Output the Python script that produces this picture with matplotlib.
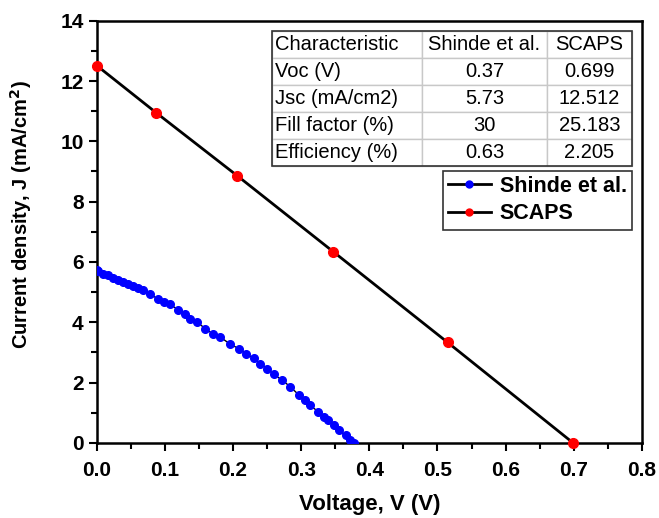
import matplotlib
matplotlib.use("Agg")
import matplotlib.pyplot as plt
from matplotlib.patches import Rectangle

plt.rcParams['font.family'] = ['Liberation Sans', 'DejaVu Sans']

# Shinde et al. measured J-V
shinde_v = [0.000, 0.002, 0.009, 0.017, 0.024, 0.031, 0.039, 0.046, 0.053, 0.061,
            0.068, 0.078, 0.089, 0.099, 0.107, 0.119, 0.129, 0.137, 0.147, 0.159,
            0.170, 0.181, 0.196, 0.208, 0.219, 0.230, 0.240, 0.250, 0.260, 0.272,
            0.284, 0.296, 0.306, 0.313, 0.325, 0.333, 0.340, 0.348, 0.355, 0.365,
            0.372, 0.377]
shinde_j = [5.73, 5.69, 5.61, 5.56, 5.48, 5.41, 5.34, 5.27, 5.19, 5.13,
            5.06, 4.94, 4.78, 4.67, 4.60, 4.42, 4.29, 4.12, 4.01, 3.79,
            3.62, 3.51, 3.27, 3.13, 2.96, 2.80, 2.63, 2.46, 2.27, 2.08,
            1.86, 1.60, 1.41, 1.25, 1.03, 0.86, 0.75, 0.59, 0.42, 0.25,
            0.09, 0.00]

# SCAPS simulation
scaps_v = [0.000, 0.087, 0.206, 0.347, 0.515, 0.699]
scaps_j = [12.51, 10.95, 8.86, 6.34, 3.33, 0.00]

col_labels = ["Characteristic", "Shinde et al.", "SCAPS"]
row_names = ["Voc (V)", "Jsc (mA/cm2)", "Fill factor (%)", "Efficiency (%)"]
shinde_vals = ["0.37", "5.73", "30", "0.63"]
scaps_vals = ["0.699", "12.512", "25.183", "2.205"]

fig = plt.figure(figsize=(6.59, 5.18), dpi=100)
ax = fig.add_axes([0.147, 0.145, 0.827, 0.815])

ax.plot(shinde_v, shinde_j, color='black', lw=1, marker='o', ms=5.5,
        mfc='blue', mec='blue', label='Shinde et al.', zorder=3)
ax.plot(scaps_v, scaps_j, color='black', lw=2, marker='o', ms=7,
        mfc='red', mec='red', label='SCAPS', zorder=3, clip_on=False)

ax.set_xlim(0, 0.8)
ax.set_ylim(0, 14)
ax.set_xticks([0, 0.1, 0.2, 0.3, 0.4, 0.5, 0.6, 0.7, 0.8])
ax.set_xticks([0.05 + 0.1 * i for i in range(8)], minor=True)
ax.set_yticks([0, 2, 4, 6, 8, 10, 12, 14])
ax.set_yticks([1, 3, 5, 7, 9, 11, 13], minor=True)
ax.set_xticklabels(["0.0", "0.1", "0.2", "0.3", "0.4", "0.5", "0.6", "0.7", "0.8"])
for lab in ax.get_xticklabels() + ax.get_yticklabels():
    lab.set_fontweight('bold')
    lab.set_fontsize(15)
ax.tick_params(which='major', length=6, width=1.5, direction='out')
ax.tick_params(axis='x', which='major', pad=7)
ax.tick_params(which='minor', length=4, width=1.5, direction='out')
for s in ax.spines.values():
    s.set_linewidth(1.8)

ax.set_xlabel("Voltage, V (V)", fontsize=16, fontweight='bold', labelpad=10)
ax.set_ylabel("Current density, J (mA/cm$^\\mathbf{2}$)", fontsize=14.5,
              fontweight='bold')
ax.yaxis.set_label_coords(-0.115, 0.54)

leg = ax.legend(loc='upper right', bbox_to_anchor=(0.982, 0.645),
                prop={'weight': 'bold', 'size': 15.5}, fancybox=False,
                edgecolor='black', handlelength=2.0, handletextpad=0.4,
                borderpad=0.25, labelspacing=0.3, borderaxespad=0)
leg.get_frame().set_linewidth(1.2)
for h in leg.legend_handles:
    h.set_linewidth(2)
    h.set_markersize(5)

cells = [[row_names[i], shinde_vals[i], scaps_vals[i]] for i in range(len(row_names))]
tab = ax.table(cellText=cells, colLabels=col_labels,
               colWidths=[0.417, 0.347, 0.236],
               bbox=[0.321, 0.657, 0.661, 0.318], zorder=4)
tab.auto_set_font_size(False)
for (r, c), cell in tab.get_celld().items():
    cell.set_edgecolor('#c8c8c8')
    cell.set_linewidth(1)
    cell.get_text().set_fontsize(14.5)
    if c == 0:
        cell.get_text().set_ha('left')
        cell.PAD = 0.02
    else:
        cell.get_text().set_ha('center')
ax.add_patch(Rectangle((0.321, 0.657), 0.661, 0.318, transform=ax.transAxes,
                       fill=False, edgecolor='#333333', lw=1.2, zorder=5))

fig.savefig("out.png", dpi=100)
